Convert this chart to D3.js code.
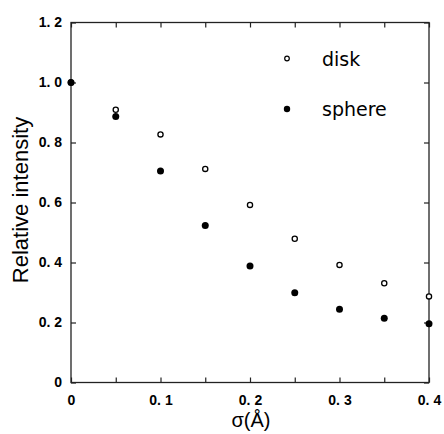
<!DOCTYPE html>
<html>
<head>
<meta charset="utf-8">
<script src="https://cdn.jsdelivr.net/npm/d3@7"></script>
<style>
  body { margin: 0; background: #fff; }
  svg { display: block; }
</style>
</head>
<body>
<svg width="444" height="434"></svg>
<script>
const sigma = [0, 0.05, 0.1, 0.15, 0.2, 0.25, 0.3, 0.35, 0.4];
const disk = [1.0, 0.909, 0.827, 0.712, 0.592, 0.479, 0.392, 0.331, 0.287];
const sphere = [1.0, 0.887, 0.705, 0.523, 0.388, 0.299, 0.244, 0.214, 0.196];
const xTicks = [0, 0.1, 0.2, 0.3, 0.4];
const xMinorTicks = [0, 0.05, 0.1, 0.15, 0.2, 0.25, 0.3, 0.35, 0.4];
const yTicks = [0, 0.2, 0.4, 0.6, 0.8, 1.0, 1.2];

const svg = d3.select("svg");
const margin = { top: 22.5, right: 15, bottom: 51.5, left: 71 };
const width = 444 - margin.left - margin.right;
const height = 434 - margin.top - margin.bottom;

const chart = svg.append("g")
    .attr("transform", `translate(${margin.left},${margin.top})`);

// SCALE
const xScale = d3.scaleLinear().domain([0, 0.4]).range([0, width]);
const yScale = d3.scaleLinear().domain([0, 1.2]).range([height, 0]);

const tickFont = "'Liberation Sans', Arial, sans-serif";
const fmtTick = d => d === 0 ? "0" : d3.format(".1f")(d).replace(".", ". ");

// AXIS
const styleAxis = g => {
    g.select(".domain").remove();
    g.selectAll(".tick line").attr("stroke", "#222").attr("stroke-width", 1.2);
    g.selectAll(".tick text")
        .attr("font-family", tickFont)
        .attr("font-size", "14px")
        .attr("font-weight", "bold")
        .attr("fill", "#000");
};

// bottom: minor inward ticks, labels every 0.1
chart.append("g")
    .attr("transform", `translate(0,${height})`)
    .call(d3.axisBottom(xScale).tickValues(xMinorTicks).tickSizeInner(-5).tickSizeOuter(0).tickFormat(""))
    .call(styleAxis);
chart.append("g")
    .attr("transform", `translate(0,${height})`)
    .call(d3.axisBottom(xScale).tickValues(xTicks).tickSize(0).tickPadding(13).tickFormat(fmtTick))
    .call(styleAxis);

// top
chart.append("g")
    .call(d3.axisTop(xScale).tickValues(xMinorTicks).tickSizeInner(-5).tickSizeOuter(0).tickFormat(""))
    .call(styleAxis);

// left
chart.append("g")
    .call(d3.axisLeft(yScale).tickValues(yTicks).tickSizeInner(-5).tickSizeOuter(0).tickPadding(9).tickFormat(fmtTick))
    .call(styleAxis);

// right
chart.append("g")
    .attr("transform", `translate(${width},0)`)
    .call(d3.axisRight(yScale).tickValues(yTicks).tickSizeInner(-5).tickSizeOuter(0).tickFormat(""))
    .call(styleAxis);

// FRAME
chart.append("rect")
    .attr("width", width)
    .attr("height", height)
    .attr("fill", "none")
    .attr("stroke", "#222")
    .attr("stroke-width", 1.3);

// POINTS
const pts = sigma.map((s, i) => ({ s, disk: disk[i], sphere: sphere[i] }));

chart.selectAll("circle.disk")
    .data(pts)
    .enter()
    .append("circle")
    .attr("class", "disk")
    .attr("cx", d => xScale(d.s))
    .attr("cy", d => yScale(d.disk))
    .attr("r", 2.6)
    .attr("fill", "#fff")
    .attr("stroke", "#000")
    .attr("stroke-width", 1.3);

chart.selectAll("circle.sphere")
    .data(pts)
    .enter()
    .append("circle")
    .attr("class", "sphere")
    .attr("cx", d => xScale(d.s))
    .attr("cy", d => yScale(d.sphere))
    .attr("r", 3.5)
    .attr("fill", "#000");

// LEGEND
const legendFont = "'DejaVu Sans', Verdana, sans-serif";
const legend = svg.append("g");
legend.append("circle")
    .attr("cx", 287).attr("cy", 58.5).attr("r", 2.3)
    .attr("fill", "#fff").attr("stroke", "#000").attr("stroke-width", 1.2);
legend.append("text")
    .attr("x", 322).attr("y", 65.5)
    .attr("font-family", legendFont).attr("font-size", "19px")
    .text("disk");
legend.append("circle")
    .attr("cx", 287).attr("cy", 109).attr("r", 3.2)
    .attr("fill", "#000");
legend.append("text")
    .attr("x", 322).attr("y", 116)
    .attr("font-family", legendFont).attr("font-size", "19px")
    .text("sphere");

// LABELS
svg.append("text")
    .attr("x", 251)
    .attr("y", 427)
    .attr("text-anchor", "middle")
    .attr("font-family", tickFont)
    .attr("font-size", "20px")
    .text("σ(Å)");

svg.append("text")
    .attr("transform", "translate(28,200) rotate(-90)")
    .attr("text-anchor", "middle")
    .attr("font-family", tickFont)
    .attr("font-size", "22px")
    .text("Relative intensity");
</script>
</body>
</html>
